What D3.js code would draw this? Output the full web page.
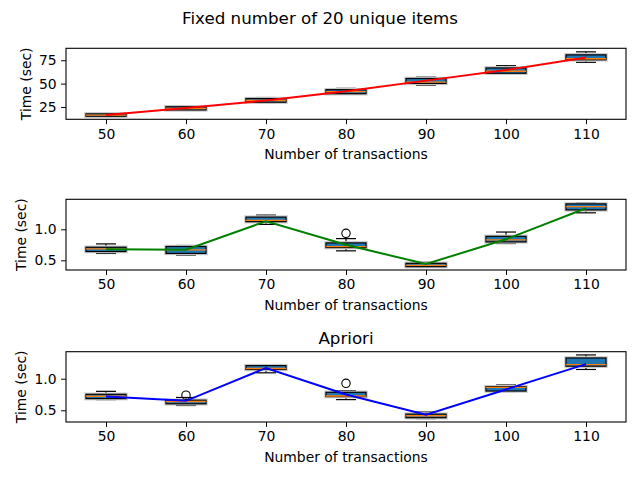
<!DOCTYPE html>
<html>
<head>
<meta charset="utf-8">
<script src="https://cdn.jsdelivr.net/npm/d3@7"></script>
<style>
  body { margin: 0; background: #fff; }
  svg { font-family: "DejaVu Sans", sans-serif; }
</style>
</head>
<body>
<svg id="chart" width="640" height="480"></svg>
<script>
// number of transactions
const categories = [50, 60, 70, 80, 90, 100, 110];

// panel 1 (seconds)
const p1Low = [15.0, 21.6, 29.4, 38.6, 48.4, 60.1, 72.8];
const p1Q1 = [15.1, 21.8, 30.1, 39.2, 50.2, 61.1, 75.5];
const p1Med = [16.3, 23.4, 31.9, 41.4, 51.6, 63.2, 76.6];
const p1Q3 = [17.6, 25.2, 34.0, 43.5, 55.5, 66.8, 80.8];
const p1High = [17.9, 26.0, 35.1, 44.9, 56.9, 69.2, 84.0];
const p1Line = [16.5, 23.8, 32.0, 41.8, 53.2, 64.5, 78.0];
const p1Out = [[], [], [], [], [], [], []];

// panel 2
const p2Low = [0.611, 0.585, 1.079, 0.653, 0.392, 0.771, 1.266];
const p2Q1 = [0.642, 0.611, 1.123, 0.706, 0.398, 0.797, 1.313];
const p2Med = [0.685, 0.669, 1.144, 0.721, 0.419, 0.829, 1.366];
const p2Q3 = [0.711, 0.723, 1.197, 0.781, 0.452, 0.887, 1.410];
const p2High = [0.765, 0.739, 1.229, 0.850, 0.468, 0.956, 1.430];
const p2Line = [0.680, 0.670, 1.130, 0.750, 0.440, 0.840, 1.340];
const p2Out = [[], [], [], [0.935], [], [], []];

// panel 3 (Apriori)
const p3Low = [0.669, 0.576, 1.093, 0.669, 0.368, 0.796, 1.146];
const p3Q1 = [0.685, 0.603, 1.146, 0.717, 0.383, 0.805, 1.198];
const p3Med = [0.722, 0.639, 1.161, 0.726, 0.415, 0.862, 1.223];
const p3Q3 = [0.753, 0.660, 1.207, 0.785, 0.440, 0.873, 1.328];
const p3High = [0.800, 0.703, 1.223, 0.812, 0.472, 0.900, 1.376];
const p3Line = [0.720, 0.650, 1.170, 0.750, 0.430, 0.830, 1.230];
const p3Out = [[], [0.739], [], [0.926], [], [], []];

const svg = d3.select("#chart");
const left = 66, right = 626;

const x = d3.scalePoint().domain(categories).range([left, right]).padding(0.5);
const boxW = x.step() * 0.5;
const capW = x.step() * 0.25;

svg.append("text")
  .attr("x", 320).attr("y", 24)
  .attr("text-anchor", "middle")
  .attr("font-size", 16.7)
  .text("Fixed number of 20 unique items");

function drawPanel(cfg) {
  const y = d3.scaleLinear().domain(cfg.domain).range([cfg.bottom, cfg.top]);
  const g = svg.append("g");

  const stats = categories.map((c, i) => ({
    c, low: cfg.low[i], q1: cfg.q1[i], med: cfg.med[i],
    q3: cfg.q3[i], high: cfg.high[i], out: cfg.out[i]
  }));

  // whiskers
  const wk = g.append("g").attr("stroke", "#000").attr("stroke-width", 1.2);
  stats.forEach(d => {
    const cx = x(d.c);
    wk.append("line").attr("x1", cx).attr("x2", cx).attr("y1", y(d.q3)).attr("y2", y(d.high));
    wk.append("line").attr("x1", cx).attr("x2", cx).attr("y1", y(d.q1)).attr("y2", y(d.low));
    wk.append("line").attr("x1", cx - capW / 2).attr("x2", cx + capW / 2).attr("y1", y(d.high)).attr("y2", y(d.high));
    wk.append("line").attr("x1", cx - capW / 2).attr("x2", cx + capW / 2).attr("y1", y(d.low)).attr("y2", y(d.low));
  });

  // boxes, with a faint grey halo like the original
  g.selectAll("rect.halo").data(stats).join("rect")
    .attr("class", "halo")
    .attr("x", d => x(d.c) - boxW / 2)
    .attr("width", boxW)
    .attr("y", d => y(d.q3))
    .attr("height", d => Math.max(0.5, y(d.q1) - y(d.q3)))
    .attr("fill", "none")
    .attr("stroke", "#c8c8c8")
    .attr("stroke-width", 3.5);
  g.selectAll("rect.box").data(stats).join("rect")
    .attr("class", "box")
    .attr("x", d => x(d.c) - boxW / 2)
    .attr("width", boxW)
    .attr("y", d => y(d.q3))
    .attr("height", d => Math.max(0.5, y(d.q1) - y(d.q3)))
    .attr("fill", "#1f77b4")
    .attr("stroke", "#000")
    .attr("stroke-width", 1.2);
  g.selectAll("line.med").data(stats).join("line")
    .attr("class", "med")
    .attr("x1", d => x(d.c) - boxW / 2)
    .attr("x2", d => x(d.c) + boxW / 2)
    .attr("y1", d => y(d.med)).attr("y2", d => y(d.med))
    .attr("stroke", "#ff7f0e")
    .attr("stroke-width", 1.4);

  // fliers
  stats.forEach(d => {
    d.out.forEach(v => {
      g.append("circle")
        .attr("cx", x(d.c)).attr("cy", y(v)).attr("r", 4.2)
        .attr("fill", "none").attr("stroke", "#000").attr("stroke-width", 1.1);
    });
  });

  // trend line
  const line = d3.line().x((d, i) => x(categories[i])).y(d => y(d));
  g.append("path")
    .datum(cfg.line)
    .attr("d", line)
    .attr("fill", "none")
    .attr("stroke", cfg.color)
    .attr("stroke-width", 2);

  // axes
  const xAxis = g.append("g")
    .attr("transform", `translate(0,${cfg.bottom})`)
    .call(d3.axisBottom(x).tickSize(4.9).tickPadding(4.5));
  const yAxis = g.append("g")
    .attr("transform", `translate(${left},0)`)
    .call(d3.axisLeft(y).tickValues(cfg.ticks).tickFormat(cfg.fmt).tickSize(4.9).tickPadding(4.5));
  [xAxis, yAxis].forEach(a => {
    a.select(".domain").remove();
    a.selectAll("text").attr("font-size", 13.9).attr("font-family", "DejaVu Sans").attr("fill", "#000");
    a.selectAll("line").attr("stroke", "#000").attr("stroke-width", 1);
  });

  g.append("rect")
    .attr("x", left).attr("y", cfg.top)
    .attr("width", right - left).attr("height", cfg.bottom - cfg.top)
    .attr("fill", "none").attr("stroke", "#000").attr("stroke-width", 1.1);

  g.append("text")
    .attr("x", (left + right) / 2).attr("y", cfg.bottom + 40)
    .attr("text-anchor", "middle").attr("font-size", 13.9)
    .text("Number of transactions");
  g.append("text")
    .attr("transform", `translate(${cfg.ylabX},${(cfg.top + cfg.bottom) / 2}) rotate(-90)`)
    .attr("text-anchor", "middle").attr("font-size", 13.9)
    .text("Time (sec)");

  if (cfg.title) {
    g.append("text")
      .attr("x", (left + right) / 2).attr("y", cfg.top - 8)
      .attr("text-anchor", "middle").attr("font-size", 16.7)
      .text(cfg.title);
  }
}

drawPanel({
  top: 48.3, bottom: 119.3, domain: [11.8, 87.8],
  low: p1Low, q1: p1Q1, med: p1Med, q3: p1Q3, high: p1High, out: p1Out,
  line: p1Line, color: "red", ticks: [25, 50, 75], fmt: d3.format("d"), ylabX: 31
});
drawPanel({
  top: 199.3, bottom: 270, domain: [0.344, 1.484],
  low: p2Low, q1: p2Q1, med: p2Med, q3: p2Q3, high: p2High, out: p2Out,
  line: p2Line, color: "green", ticks: [0.5, 1.0], fmt: d3.format(".1f"), ylabX: 26
});
drawPanel({
  top: 351.7, bottom: 422, domain: [0.315, 1.427],
  low: p3Low, q1: p3Q1, med: p3Med, q3: p3Q3, high: p3High, out: p3Out,
  line: p3Line, color: "blue", ticks: [0.5, 1.0], fmt: d3.format(".1f"), ylabX: 26,
  title: "Apriori"
});
</script>
</body>
</html>
